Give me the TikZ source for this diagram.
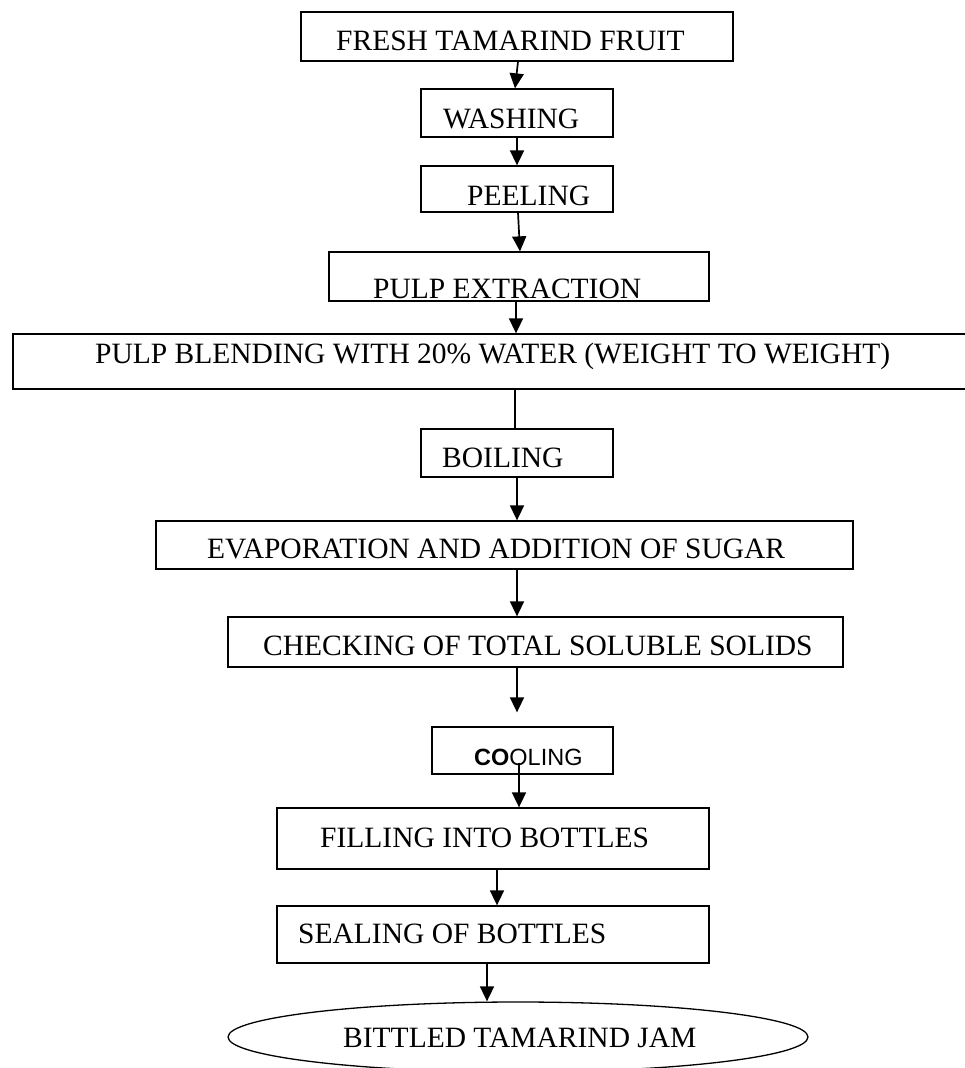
\documentclass[tikz,border=0pt]{standalone}
\usepackage{fontspec}
\setmainfont{Liberation Serif}
\newfontfamily\coolfont{Liberation Sans}
\usetikzlibrary{arrows.meta,shapes.geometric}

\begin{document}
\begin{tikzpicture}[x=1pt, y=-1pt, >={Triangle[length=15pt, width=14pt]}]
\tikzset{
    stage/.style= {rectangle, draw=black, line width=1.3pt, inner sep=0pt},
    final/.style= {ellipse, draw=black, line width=1.3pt, inner sep=0pt},
    stagetext/.style= {anchor=base west, inner sep=0pt, font=\fontsize{29.5}{35}\selectfont},
    flow/.style= {->, line width=1.7pt},
    link/.style= {-, line width=1.7pt},
}
\useasboundingbox (0,0) rectangle (964,1068);

\node[stage, minimum width=432pt, minimum height=49pt] (fresh) at (517,36.5) {};
\node[stage, minimum width=192pt, minimum height=48pt] (washing) at (517,113) {};
\node[stage, minimum width=192pt, minimum height=46pt] (peeling) at (517,189) {};
\node[stage, minimum width=380pt, minimum height=49pt] (pulpext) at (519,276.5) {};
\node[stage, minimum width=967pt, minimum height=55pt] (blend) at (496.5,361.5) {};
\node[stage, minimum width=192pt, minimum height=48pt] (boiling) at (517,453) {};
\node[stage, minimum width=697pt, minimum height=48pt] (evap) at (504.5,545) {};
\node[stage, minimum width=615pt, minimum height=50pt] (check) at (535.5,642) {};
\node[stage, minimum width=181pt, minimum height=47pt] (cooling) at (522.5,750.5) {};
\node[stage, minimum width=432pt, minimum height=61pt] (filling) at (493,838.5) {};
\node[stage, minimum width=432pt, minimum height=57pt] (sealing) at (493,934.5) {};
\node[final, minimum width=580pt, minimum height=70pt] (jam) at (518,1037) {};

\node[stagetext] (fresh-t) at (336,50) {FRESH TAMARIND FRUIT};
\node[stagetext] (washing-t) at (443,128) {WASHING};
\node[stagetext] (peeling-t) at (467,205) {PEELING};
\node[stagetext] (pulpext-t) at (373,298) {PULP EXTRACTION};
\node[stagetext] (blend-t) at (95,363) {PULP BLENDING WITH 20\% WATER (WEIGHT TO WEIGHT)};
\node[stagetext] (boiling-t) at (442,467) {BOILING};
\node[stagetext] (evap-t) at (207,558) {EVAPORATION AND ADDITION OF SUGAR};
\node[stagetext] (check-t) at (263,655) {CHECKING OF TOTAL SOLUBLE SOLIDS};
\node[stagetext, font=\coolfont\fontsize{23.5}{28}\selectfont] (cooling-t) at (474,765) {\textbf{CO}OLING};
\node[stagetext] (filling-t) at (320,847) {FILLING INTO BOTTLES};
\node[stagetext] (sealing-t) at (298,943) {SEALING OF BOTTLES};
\node[stagetext] (jam-t) at (343,1047) {BITTLED TAMARIND JAM};

\draw
([xshift=1pt]fresh.south) edge[flow] ([xshift=-2pt]washing.north)
(washing.south) edge[flow] (peeling.north)
([xshift=1pt]peeling.south) edge[flow] ([xshift=1pt]pulpext.north)
([xshift=-3pt]pulpext.south) edge[flow] ([xshift=-3pt]pulpext.south |- blend.north)
([xshift=-2pt]boiling.north |- blend.south) edge[link] ([xshift=-2pt]boiling.north)
(boiling.south) edge[flow] (boiling.south |- evap.north)
(boiling.south |- evap.south) edge[flow] (boiling.south |- check.north)
(boiling.south |- check.south) edge[flow] ([yshift=14pt]cooling.north -| boiling.south)
([xshift=-3.5pt, yshift=12pt]cooling.south) edge[flow] ([xshift=-3.5pt]cooling.south |- filling.north)
([xshift=4pt]filling.south) edge[flow] ([xshift=4pt]filling.south |- sealing.north)
([xshift=-6pt]sealing.south) edge[flow] ([xshift=-6pt]sealing.south |- jam.north);
\end{tikzpicture}
\end{document}
